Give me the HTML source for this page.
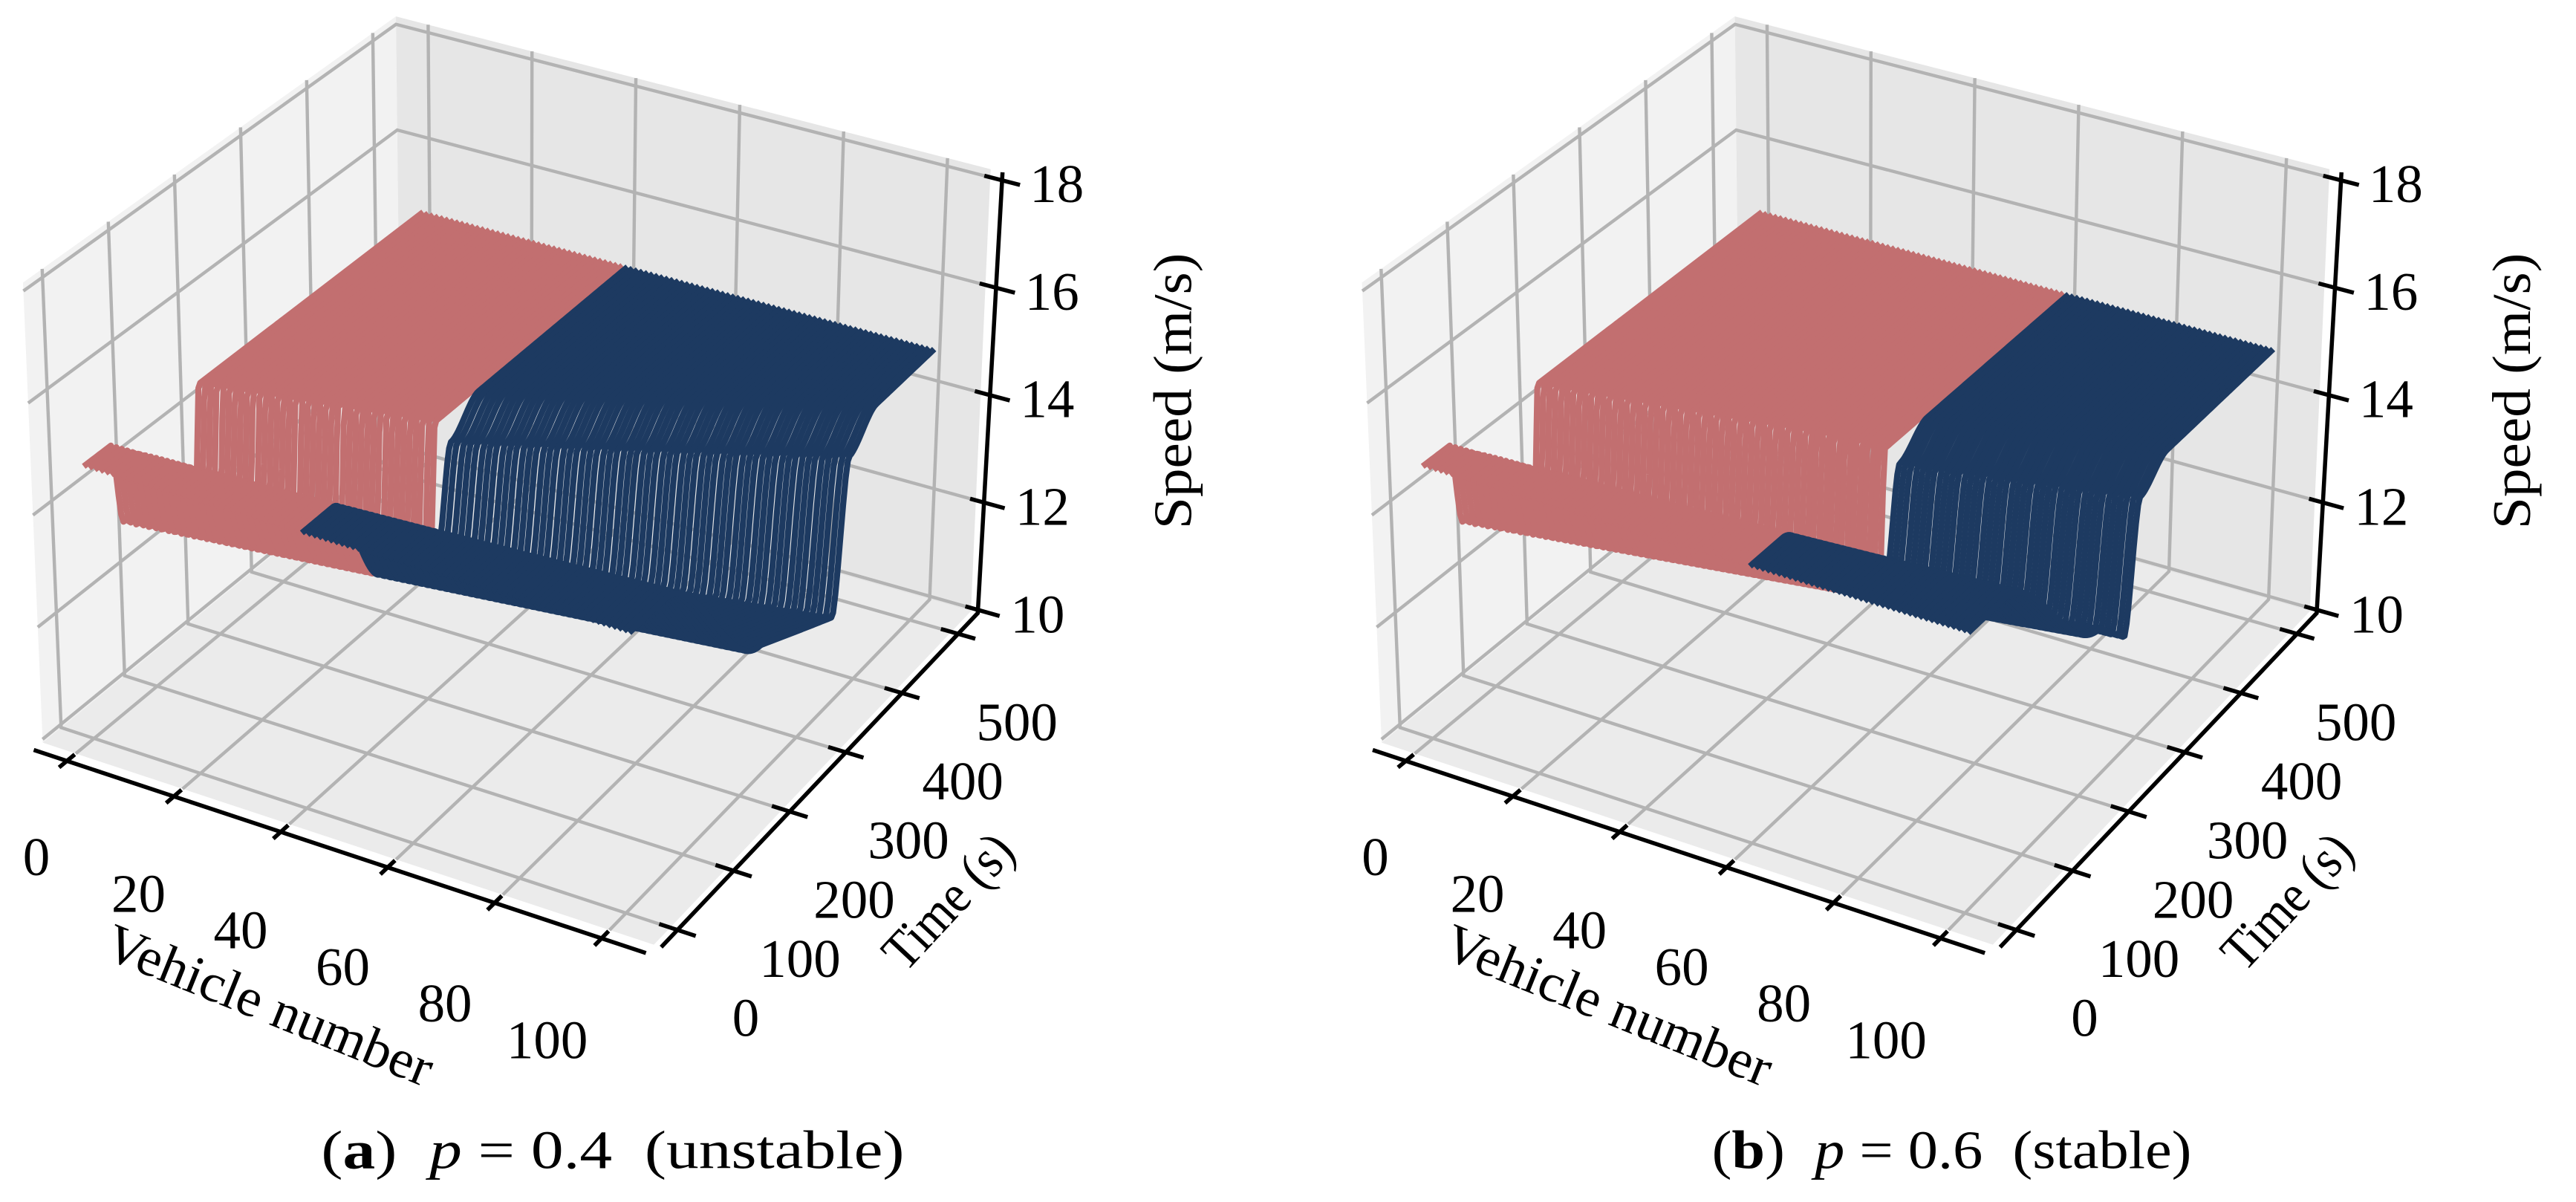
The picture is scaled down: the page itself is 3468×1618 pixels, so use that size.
<!DOCTYPE html>
<html><head><meta charset="utf-8"><title>Vehicle speed 3D plots</title>
<style>
html,body{margin:0;padding:0;background:#fff;}
svg{display:block;font-family:"Liberation Serif",serif;}
</style></head>
<body>
<svg id="fig" xmlns="http://www.w3.org/2000/svg" width="3468" height="1618" viewBox="0 0 1568 731.6" preserveAspectRatio="none">
<rect width="1568" height="731.6" fill="#fff"/>
</svg>
<script>
// ---- data ----
const vehicleTicks = [0, 20, 40, 60, 80, 100];
const timeTicks = [0, 100, 200, 300, 400, 500];
const speedTicks = [10, 12, 14, 16, 18];
const panelLabels = ['a', 'b'];
const panelP = ['0.4', '0.6'];
const panelState = ['unstable', 'stable'];
const redCount = [40, 60];           // vehicles drawn in red (first N)
const initialSpeed = [14.8, 14.8];
const dropStartFirst = [42, 42];
const dropStartLast = [62, 62];
const dropDurFirst = [15, 15];
const dropDurLast = [170, 170];
const lowSpeedFirst = [13.3, 13.3];
const lowSpeedLast = [12.3, 12.6];
const preRiseFirst = [13.1, 13.1];
const preRiseLast = [11.5, 12.0];
const midSpeed = [14.2, 14.3];
const finalSpeed = [14.7, 14.7];
const riseTimeA = [170,171,172,173,175,176,177,178,179,180,182,183,184,185,186,187,188,190,191,192,193,194,195,196,198,199,200,201,202,203,204,206,207,208,209,210,211,212,214,215,
218,220,223,225,227,230,232,234,237,239,241,244,246,248,251,253,255,258,260,262,265,267,269,272,274,276,279,281,283,286,288,290,293,295,297,300,302,304,307,309,311,314,316,318,321,323,325,328,330,332,335,337,339,342,344,346,349,351,353,356,358];
const riseTimeB = [170,171,172,173,174,175,176,177,178,179,180,181,182,183,184,185,186,187,188,189,190,191,192,193,194,195,196,197,198,199,200,201,202,203,204,205,206,207,208,209,210,211,212,213,214,215,216,216,217,218,218,219,219,220,220,221,221,222,222,223,
225,226,227,229,230,231,232,234,235,236,237,239,240,241,242,244,245,246,247,249,250,251,252,254,255,256,257,259,260,261,262,264,265,266,267,269,270,271,272,274,275];
const riseTimes = [riseTimeA, riseTimeB];

// ---- projection ----
const NS = 'http://www.w3.org/2000/svg';
const vmin = -6.2, vmax = 108.3, tmin = -29, tmax = 535, zmin = 9.94, zmax = 18.15;
const C = {
  '000':[26,452], '100':[398,575], '010':[244,274], '110':[591,372],
  '001':[14,172], '101':[402,285], '011':[241,10], '111':[603,103]
};
function projN(a,b,c){
  let x=0,y=0;
  for (const ia of [0,1]) for (const ib of [0,1]) for (const ic of [0,1]) {
    const w=(ia?a:1-a)*(ib?b:1-b)*(ic?c:1-c);
    const p=C[''+ia+ib+ic]; x+=w*p[0]; y+=w*p[1];
  }
  return [x,y];
}
const sa = v => (v-vmin)/(vmax-vmin);
const sb = t => (t-tmin)/(tmax-tmin);
const sc = z => (z-zmin)/(zmax-zmin);
function proj(v,t,z){ return projN(sa(v),sb(t),sc(z)); }

function el(tag, attrs, parent){
  const e=document.createElementNS(NS,tag);
  for (const k in attrs) e.setAttribute(k, attrs[k]);
  parent.appendChild(e); return e;
}
function pts(arr){ return arr.map(p=>p[0].toFixed(2)+','+p[1].toFixed(2)).join(' '); }
function smooth(x){ x=Math.max(0,Math.min(1,x)); return x*x*(3-2*x); }
function lerp(a,b,f){ return a+(b-a)*f; }

function speedAt(k, v, t, T, blue){
  const f = v/100;
  const s0=initialSpeed[k];
  const dS=lerp(dropStartFirst[k],dropStartLast[k],f);
  const dD=lerp(dropDurFirst[k],dropDurLast[k],f);
  const low=lerp(lowSpeedFirst[k],lowSpeedLast[k],f);
  const pre=lerp(preRiseFirst[k],preRiseLast[k],f);
  const dE=dS+dD;
  let s;
  if (t < dS) s = s0;
  else if (t < dE) s = s0 + (low-s0)*smooth((t-dS)/dD);
  else s = low + (pre-low)*Math.min(1,(t-dE)/Math.max(1,T-dE));
  if (t >= T) {
    if (blue) {
      if (t < T+22) s = s + (midSpeed[k]-s)*smooth((t-T)/22);
      else s = midSpeed[k] + (finalSpeed[k]-midSpeed[k])*smooth((t-T-22)/45);
    } else {
      s = s + (finalSpeed[k]-s)*smooth((t-T)/8);
    }
  }
  return s;
}

const svg = document.getElementById('fig');

for (let k=0;k<2;k++){
  const g = el('g',{transform:'translate('+(k*815)+',0)'},svg);
  
  

  const paneL = el('polygon',{points:pts([C['000'],C['010'],C['011'],C['001']]),fill:'#f2f2f2'},g);
  
  
  const paneB = el('polygon',{points:pts([C['010'],C['110'],C['111'],C['011']]),fill:'#e6e6e6'},g);
  
  
  const paneF = el('polygon',{points:pts([C['000'],C['100'],C['110'],C['010']]),fill:'#ebebeb'},g);
  
  

  const gg = el('g',{stroke:'#b3b3b3','stroke-width':2.0,fill:'none'},g);
  
  
  for (const v of vehicleTicks){
    const l = el('polyline',{points:pts([proj(v,tmin,zmin),proj(v,tmax,zmin),proj(v,tmax,zmax)])},gg);
    
    
  }
  for (const t of timeTicks){
    const l = el('polyline',{points:pts([proj(vmax,t,zmin),proj(vmin,t,zmin),proj(vmin,t,zmax)])},gg);
    
    
  }
  for (const z of speedTicks){
    const l = el('polyline',{points:pts([proj(vmin,tmin,z),proj(vmin,tmax,z),proj(vmax,tmax,z)])},gg);
    
    
  }

  const sg = el('g',{fill:'none','stroke-width':3.7,'stroke-linejoin':'round','stroke-linecap':'butt'},g);
  
  
  const rt = riseTimes[k];
  for (let v=0; v<rt.length; v++){
    const blue = v >= redCount[k];
    const arr=[];
    for (let t=0; t<=526; t+=3) arr.push(proj(v,t,speedAt(k,v,t,rt[v],blue)));
    const l = el('polyline',{points:pts(arr),stroke: blue?'#1d3a61':'#c26f70'},sg);
    
    
  }

  const ag = el('g',{stroke:'#000','stroke-width':2.5,fill:'none'},g);
  
  
  const bOff = -0.025;
  const vx = el('line',{},ag);
  const p1=projN(0,bOff,0), p2=projN(1,bOff,0);
  vx.setAttribute('x1',p1[0]);vx.setAttribute('y1',p1[1]);vx.setAttribute('x2',p2[0]);vx.setAttribute('y2',p2[1]);
  
  
  const tx = el('polyline',{points:pts([projN(1.012,0,0),projN(1.012,1,0),projN(1.02,1,1)])},ag);
  
  

  const tg = el('g',{'font-size':33,fill:'#000','text-anchor':'middle'},g);
  
  
  vehicleTicks.forEach((v,i)=>{
    const a=sa(v);
    const q1=projN(a,bOff-0.022,0), q2=projN(a,bOff+0.022,0);
    const tk=el('line',{x1:q1[0],y1:q1[1],x2:q2[0],y2:q2[1]},ag);
    
    
    const f=v/100, base=proj(v,tmin,zmin);
    const tl=el('text',{x:base[0]-24-14*f,y:base[1]+63+4*f+11},tg);
    tl.textContent=String(v);
    
    
  });
  timeTicks.forEach((t,i)=>{
    const b=sb(t);
    const q1=projN(1.012-0.03,b,0), q2=projN(1.012+0.03,b,0);
    const tk=el('line',{x1:q1[0],y1:q1[1],x2:q2[0],y2:q2[1]},ag);
    
    
    const f=t/500, base=proj(vmax,t,zmin);
    const tl=el('text',{x:base[0]+46-6*f,y:base[1]+55+11},tg);
    tl.textContent=String(t);
    
    
  });
  speedTicks.forEach((z,i)=>{
    const c=sc(z);
    const q1=projN(1.02-0.03,1,c), q2=projN(1.02+0.03,1,c);
    const tk=el('line',{x1:q1[0],y1:q1[1],x2:q2[0],y2:q2[1]},ag);
    
    
    const base=proj(vmax,tmax,z);
    const tl=el('text',{x:base[0]+24,y:base[1]+4+11,'text-anchor':'start'},tg);
    tl.textContent=String(z);
    
    
  });

  const st=el('text',{x:0,y:0,'font-size':33,'text-anchor':'middle',transform:'translate(725,238) rotate(-90)',textLength:168,lengthAdjust:'spacingAndGlyphs'},g);
  st.textContent='Speed (m/s)';
  
  
  const tt=el('text',{x:0,y:0,'font-size':33,'text-anchor':'middle',transform:'translate(585,556) rotate(-47)',textLength:100,lengthAdjust:'spacingAndGlyphs'},g);
  tt.textContent='Time (s)';
  
  
  const vt=el('text',{x:0,y:0,'font-size':33,'text-anchor':'middle',transform:'translate(160,622) rotate(22)',textLength:212,lengthAdjust:'spacingAndGlyphs'},g);
  vt.textContent='Vehicle number';
  
  

  const cap=el('text',{x:373,y:711,'font-size':33,'text-anchor':'middle',textLength:(k===0?355:292),lengthAdjust:'spacingAndGlyphs'},g);
  
  
  const s1=el('tspan',{},cap); s1.textContent='(';
  const s2=el('tspan',{'font-weight':'bold'},cap); s2.textContent=panelLabels[k];
  const s3=el('tspan',{},cap); s3.textContent=')\u00a0\u00a0';
  const s4=el('tspan',{'font-style':'italic'},cap); s4.textContent='p';
  const s5=el('tspan',{},cap); s5.textContent=' = '+panelP[k]+'\u00a0\u00a0('+panelState[k]+')';
}
</script>
</body></html>
